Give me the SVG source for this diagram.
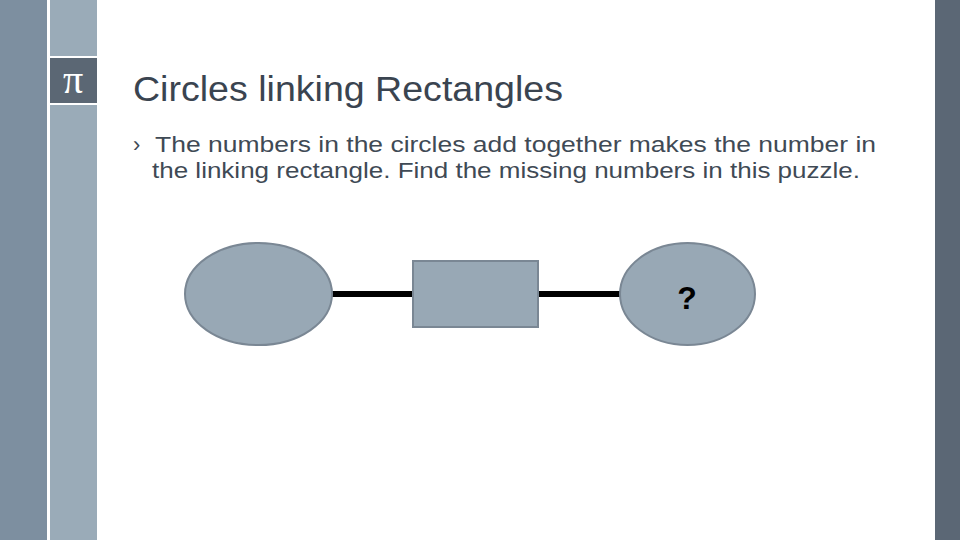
<svg xmlns="http://www.w3.org/2000/svg" width="960" height="540" viewBox="0 0 960 540">
<style>
.node{fill:#98a8b5;stroke:#7a8794;stroke-width:2}
.conn{stroke:#000;stroke-width:6}
.title{font-family:"Liberation Sans",Arial,sans-serif;font-size:35px;fill:#3a4450}
.body{font-family:"Liberation Sans",Arial,sans-serif;font-size:22px;fill:#3f4a55}
</style>
<rect x="0" y="0" width="960" height="540" fill="#ffffff"/>
<rect x="0" y="0" width="47" height="540" fill="#7d8fa0"/>
<rect x="50" y="0" width="47" height="540" fill="#9aabb8"/>
<rect x="50" y="56" width="47" height="2" fill="#ffffff"/>
<rect x="50" y="58" width="47" height="45" fill="#5b6774"/>
<rect x="50" y="103" width="47" height="2" fill="#ffffff"/>
<text x="73" y="93" text-anchor="middle" font-family="'Liberation Serif',serif" font-size="40" fill="#ffffff">π</text>
<rect x="935" y="0" width="25" height="540" fill="#5b6775"/>
<text class="title" x="133" y="101" textLength="430" lengthAdjust="spacingAndGlyphs">Circles  linking  Rectangles</text>
<text class="body" x="133" y="152" font-size="18">›</text>
<text class="body" x="155" y="152" textLength="721" lengthAdjust="spacingAndGlyphs">The  numbers  in  the  circles  add  together  makes  the  number  in</text>
<text class="body" x="152" y="178" textLength="708" lengthAdjust="spacingAndGlyphs">the  linking  rectangle.  Find  the  missing  numbers  in  this  puzzle.</text>
<g id="connectors">
<line class="conn" x1="332" y1="294" x2="413" y2="294"/>
<line class="conn" x1="538" y1="294" x2="620" y2="294"/>
</g>
<g id="circle-left"><ellipse class="node" cx="258.5" cy="294" rx="73.5" ry="51"/></g>
<g id="rect-middle"><rect class="node" x="413" y="261" width="125" height="66"/></g>
<g id="circle-right">
<ellipse class="node" cx="687.5" cy="294" rx="67.5" ry="51"/>
<text x="687" y="309" text-anchor="middle" font-family="'Liberation Sans',Arial,sans-serif" font-weight="bold" font-size="32" fill="#000">?</text>
</g>
</svg>
